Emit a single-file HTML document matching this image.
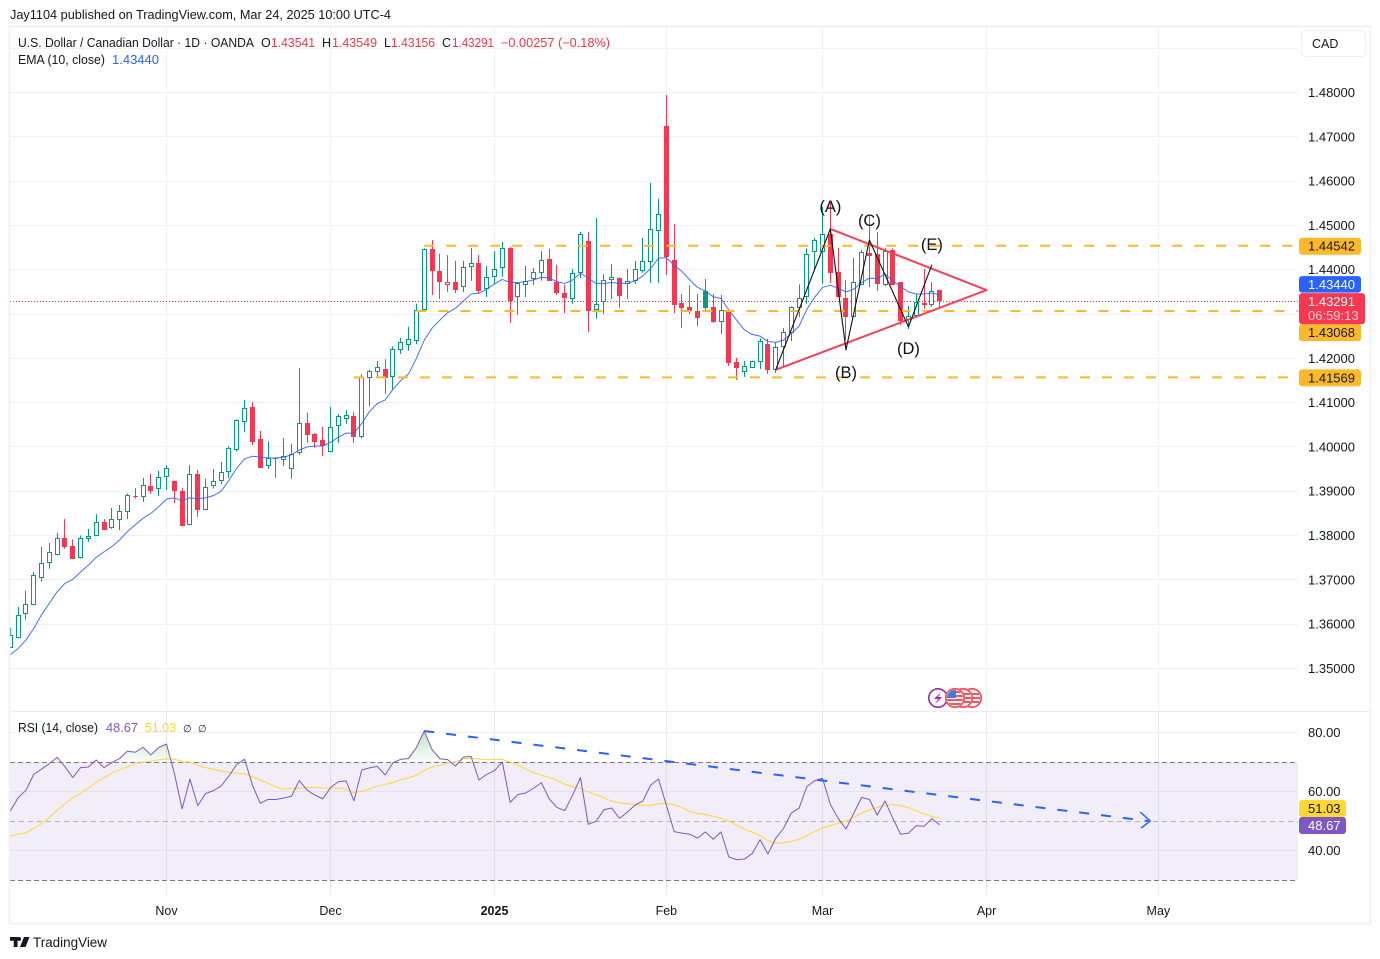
<!DOCTYPE html>
<html lang="en">
<head>
<meta charset="utf-8">
<title>USD/CAD chart</title>
<style>
html,body{margin:0;padding:0;background:#fff;width:1380px;height:959px;overflow:hidden}
svg{display:block}
text{font-family:"Liberation Sans",sans-serif}
</style>
</head>
<body>
<svg id="chart" xmlns="http://www.w3.org/2000/svg" width="1380" height="959" viewBox="0 0 1380 959">
  <defs>
    <clipPath id="price-clip"><rect x="10" y="27" width="1288" height="684"/></clipPath>
    <clipPath id="rsi-clip"><rect x="10" y="712" width="1288" height="181"/></clipPath>
    <clipPath id="overbought-clip"><rect id="overbought-clip-rect" x="10" y="712" width="1288" height="50"/></clipPath>
    <clipPath id="flag-clip"><circle cx="955" cy="698" r="8"/></clipPath>
    <linearGradient id="overbought-gradient" gradientUnits="userSpaceOnUse" x1="0" y1="732" x2="0" y2="762">
      <stop offset="0" stop-color="#4caf50" stop-opacity="0.35"/>
      <stop offset="1" stop-color="#4caf50" stop-opacity="0.02"/>
    </linearGradient>
  </defs>

  <rect x="0" y="0" width="1380" height="959" fill="#ffffff"/>
  <text x="10" y="19" font-size="12.5" fill="#131722" textLength="381" lengthAdjust="spacingAndGlyphs">Jay1104 published on TradingView.com, Mar 24, 2025 10:00 UTC-4</text>

  <g id="grid-layer"></g>
  <rect id="rsi-band" x="10" width="1288" fill="#7e57c2" fill-opacity="0.1"/>
  <g id="rsi-guides"></g>

  <g id="price-pane" clip-path="url(#price-clip)"></g>
  <g id="rsi-pane" clip-path="url(#rsi-clip)"></g>

  <rect x="9.5" y="26.5" width="1361" height="897" fill="none" stroke="#eff0f3" stroke-width="1.6"/>
  <line x1="10" y1="711.5" x2="1370" y2="711.5" stroke="#e9ebf0" stroke-width="1"/>

  <g id="axis-layer"></g>

  <g>
    <circle cx="938" cy="698" r="9.2" fill="#fff" stroke="#9c27b0" stroke-width="1.6"/>
    <polygon points="941,692 934,699 938,699 935,704 942,697 938,697" fill="#9c27b0"/>
    <circle cx="972" cy="698" r="9.2" fill="#fff" stroke="#f7525f" stroke-width="1.8"/>
    <path d="M966 694h13M965 698h15M966 702h13" stroke="#f7525f" stroke-width="2" fill="none"/>
    <circle cx="963" cy="698" r="9.2" fill="#fff" stroke="#f7525f" stroke-width="1.8"/>
    <path d="M957 694h13M956 698h15M957 702h13" stroke="#f7525f" stroke-width="2" fill="none"/>
    <circle cx="955" cy="698" r="9.2" fill="#fff" stroke="#f7525f" stroke-width="1.8"/>
    <g clip-path="url(#flag-clip)">
      <rect x="947" y="690" width="16" height="16" fill="#fff"/>
      <path d="M947 692h16M947 696h16M947 700h16M947 704h16" stroke="#f7525f" stroke-width="2" fill="none"/>
      <rect x="947" y="690" width="9" height="8" fill="#3d7bea"/>
    </g>
  </g>

  <g>
    <text x="18" y="47" font-size="12.5" fill="#131722" textLength="236" lengthAdjust="spacingAndGlyphs">U.S. Dollar / Canadian Dollar · 1D · OANDA</text>
    <text x="261" y="47" font-size="12.5" fill="#131722">O</text>
    <text x="271" y="47" font-size="12.5" fill="#f23645" textLength="44" lengthAdjust="spacingAndGlyphs">1.43541</text>
    <text x="322" y="47" font-size="12.5" fill="#131722">H</text>
    <text x="332" y="47" font-size="12.5" fill="#f23645" textLength="45" lengthAdjust="spacingAndGlyphs">1.43549</text>
    <text x="384" y="47" font-size="12.5" fill="#131722">L</text>
    <text x="391" y="47" font-size="12.5" fill="#f23645" textLength="44" lengthAdjust="spacingAndGlyphs">1.43156</text>
    <text x="442" y="47" font-size="12.5" fill="#131722">C</text>
    <text x="452" y="47" font-size="12.5" fill="#f23645" textLength="42" lengthAdjust="spacingAndGlyphs">1.43291</text>
    <text x="501" y="47" font-size="12.5" fill="#f23645" textLength="109" lengthAdjust="spacingAndGlyphs">−0.00257 (−0.18%)</text>
    <text x="18" y="64" font-size="12.5" fill="#131722" textLength="87" lengthAdjust="spacingAndGlyphs">EMA (10, close)</text>
    <text x="112" y="64" font-size="12.5" fill="#2962ff" textLength="47" lengthAdjust="spacingAndGlyphs">1.43440</text>
    <text x="18" y="732" font-size="12.5" fill="#131722" textLength="80" lengthAdjust="spacingAndGlyphs">RSI (14, close)</text>
    <text x="106" y="732" font-size="12.5" fill="#7e57c2" textLength="32" lengthAdjust="spacingAndGlyphs">48.67</text>
    <text x="145" y="732" font-size="12.5" fill="#fdd835" textLength="31" lengthAdjust="spacingAndGlyphs">51.03</text>
    <text x="183" y="732" font-size="10" fill="#131722">∅</text>
    <text x="198" y="732" font-size="10" fill="#131722">∅</text>
  </g>

  <g>
    <path d="M10 937h7.5v10h-3.8v-6.2H10zM19 937a2 2 0 1 1 0 4 2 2 0 0 1 0-4zM24 937h5.5l-4 10h-5.5z" fill="#131722"/>
    <text x="33" y="947" font-size="13.5" fill="#131722" textLength="74" lengthAdjust="spacingAndGlyphs">TradingView</text>
  </g>
</svg>

<script>
// ---------- Price data ----------
const opens = [
1.3547,1.3568,1.3622,1.3643,1.3703,1.3739,1.3755,1.3794,1.3776,1.3750,
1.3791,1.3800,1.3830,1.3818,1.3834,1.3852,1.3889,1.3888,1.3912,1.3904,
1.3933,1.3924,1.3900,1.3823,1.3939,1.3857,1.3911,1.3924,1.3943,1.3994,
1.4056,1.4090,1.4018,1.3956,1.3976,1.3970,1.3949,1.3986,1.4054,1.4029,
1.4016,1.3989,1.4048,1.4064,1.4070,1.4023,1.4155,1.4168,1.4175,1.4157,
1.4218,1.4229,1.4238,1.4308,1.4447,1.4397,1.4365,1.4372,1.4360,1.4405,
1.4415,1.4357,1.4384,1.4403,1.4448,1.4339,1.4365,1.4380,1.4393,1.4424,
1.4372,1.4347,1.4333,1.4392,1.4465,1.4308,1.4326,1.4376,1.4381,1.4367,
1.4374,1.4396,1.4417,1.4487,1.4724,1.4422,1.4325,1.4316,1.4307,1.4352,
1.4316,1.4282,1.4305,1.4192,1.4169,1.4179,1.4192,1.4232,1.4174,1.4225,
1.4256,1.4313,1.4338,1.4439,1.4441,1.4481,1.4395,1.4336,1.4293,1.4366,
1.4438,1.4435,1.4366,1.4445,1.4372,1.4286,1.4296,1.4324,1.4320,1.43541];
const highs = [
1.3592,1.3639,1.3675,1.3718,1.3774,1.3783,1.3806,1.3837,1.3791,1.3800,
1.3815,1.3848,1.3837,1.3862,1.3869,1.3895,1.3907,1.3930,1.3939,1.3946,
1.3959,1.3924,1.3907,1.3959,1.3948,1.3928,1.3950,1.3966,1.4001,1.4062,
1.4106,1.4101,1.4036,1.4013,1.3976,1.4020,1.4007,1.4178,1.4077,1.4031,
1.4045,1.4090,1.4074,1.4083,1.4079,1.4164,1.4174,1.4194,1.4198,1.4227,
1.4246,1.4271,1.4323,1.4448,1.4467,1.4436,1.4433,1.4420,1.4420,1.4449,
1.4433,1.4408,1.4442,1.4463,1.4451,1.4369,1.4408,1.4404,1.4442,1.4447,
1.4411,1.4366,1.4402,1.4485,1.4485,1.4517,1.4390,1.4413,1.4383,1.4402,
1.4420,1.4472,1.4596,1.4560,1.4794,1.4503,1.4345,1.4365,1.4345,1.4379,
1.4345,1.4343,1.4305,1.4201,1.4194,1.4195,1.4245,1.4244,1.4236,1.4268,
1.4317,1.4367,1.4448,1.4472,1.4542,1.4553,1.4449,1.4377,1.4426,1.4445,
1.4521,1.4485,1.4449,1.4448,1.4372,1.4318,1.4345,1.4402,1.4372,1.43549];
const lows = [
1.3547,1.3568,1.3610,1.3642,1.3696,1.3725,1.3755,1.3770,1.3748,1.3748,
1.3786,1.3800,1.3812,1.3815,1.3812,1.3837,1.3883,1.3876,1.3894,1.3889,
1.3903,1.3873,1.3822,1.3823,1.3842,1.3857,1.3906,1.3916,1.3930,1.3989,
1.4034,1.4004,1.3952,1.3950,1.3930,1.3957,1.3928,1.3982,1.4009,1.3998,
1.3979,1.3989,1.4009,1.4052,1.4009,1.4019,1.4092,1.4155,1.4119,1.4130,
1.4210,1.4217,1.4232,1.4305,1.4343,1.4334,1.4350,1.4347,1.4350,1.4375,
1.4345,1.4338,1.4368,1.4384,1.4280,1.4298,1.4338,1.4366,1.4375,1.4375,
1.4343,1.4302,1.4323,1.4381,1.4259,1.4289,1.4300,1.4334,1.4314,1.4334,
1.4368,1.4393,1.4370,1.4370,1.4388,1.4302,1.4268,1.4300,1.4273,1.4305,
1.4280,1.4255,1.4183,1.4151,1.4158,1.4179,1.4176,1.4165,1.4167,1.4182,
1.4239,1.4293,1.4323,1.4399,1.4368,1.4370,1.4338,1.4241,1.4293,1.4366,
1.4361,1.4352,1.4363,1.4366,1.4275,1.4266,1.4293,1.4311,1.4316,1.43156];
const closes = [
1.3575,1.3620,1.3645,1.3710,1.3739,1.3762,1.3794,1.3773,1.3748,1.3794,
1.3798,1.3830,1.3812,1.3837,1.3855,1.3891,1.3887,1.3913,1.3900,1.3933,
1.3952,1.3901,1.3822,1.3938,1.3858,1.3909,1.3922,1.3943,1.3997,1.4060,
1.4087,1.4011,1.3952,1.3974,1.3973,1.3979,1.3983,1.4053,1.4027,1.4011,
1.4002,1.4044,1.4069,1.4071,1.4022,1.4157,1.4171,1.4180,1.4156,1.4220,
1.4236,1.4243,1.4308,1.4446,1.4397,1.4373,1.4372,1.4354,1.4405,1.4414,
1.4352,1.4383,1.4401,1.4448,1.4329,1.4369,1.4374,1.4394,1.4421,1.4375,
1.4347,1.4336,1.4392,1.4480,1.4307,1.4322,1.4376,1.4383,1.4341,1.4374,
1.4401,1.4419,1.4493,1.4525,1.4429,1.4320,1.4314,1.4307,1.4291,1.4314,
1.4282,1.4308,1.4189,1.4178,1.4182,1.4195,1.4238,1.4174,1.4225,1.4259,
1.4315,1.4335,1.4435,1.4466,1.4481,1.4393,1.4338,1.4293,1.4372,1.4440,
1.4431,1.4368,1.4442,1.4366,1.4284,1.4296,1.4326,1.4321,1.4353,1.43291];
const emaValues = [
1.3531,1.3545,1.3564,1.3590,1.3621,1.3647,1.3673,1.3692,1.3701,1.3718,
1.3733,1.3751,1.3763,1.3775,1.3790,1.3809,1.3824,1.3839,1.3850,1.3865,
1.3882,1.3885,1.3878,1.3885,1.3883,1.3885,1.3890,1.3900,1.3925,1.3952,
1.3973,1.3979,1.3977,1.3975,1.3975,1.3977,1.3982,1.3993,1.4000,1.4002,
1.4002,1.4010,1.4022,1.4031,1.4031,1.4053,1.4080,1.4098,1.4106,1.4130,
1.4150,1.4165,1.4200,1.4241,1.4268,1.4286,1.4303,1.4313,1.4329,1.4345,
1.4347,1.4356,1.4368,1.4378,1.4371,1.4371,1.4373,1.4377,1.4383,1.4381,
1.4373,1.4369,1.4377,1.4392,1.4381,1.4369,1.4369,1.4371,1.4369,1.4369,
1.4375,1.4386,1.4403,1.4426,1.4427,1.4410,1.4396,1.4377,1.4360,1.4352,
1.4339,1.4335,1.4309,1.4286,1.4264,1.4254,1.4250,1.4238,1.4236,1.4241,
1.4256,1.4273,1.4311,1.4338,1.4360,1.4365,1.4358,1.4350,1.4356,1.4371,
1.4381,1.4380,1.4390,1.4375,1.4362,1.4350,1.4345,1.4345,1.4347,1.43440];

// ---------- RSI data ----------
const rsiValues = [
53.4,57.9,60.4,65.8,67.6,69.4,71.6,68.4,64.7,68.1,
68.3,70.7,68.1,69.8,71.2,73.7,73.3,75.0,72.4,74.9,
76.1,66.2,54.1,64.2,55.2,59.3,60.3,61.9,65.3,69.2,
70.9,62.2,56.0,57.3,57.3,57.8,58.4,63.7,60.5,58.8,
57.5,61.3,63.3,63.6,56.8,67.3,68.0,68.5,65.6,69.8,
70.9,71.2,74.9,80.5,74.2,71.1,70.8,68.6,71.6,71.9,
63.9,65.8,67.1,70.0,56.3,59.0,59.5,61.1,63.0,57.5,
54.6,53.5,58.8,64.7,48.9,49.9,53.8,54.4,50.9,53.0,
55.4,56.8,62.2,64.2,55.4,46.4,45.9,45.5,44.2,46.3,
43.8,46.3,37.8,36.9,37.1,39.0,43.7,38.8,44.1,47.5,
52.7,54.4,61.7,63.7,64.5,55.6,50.9,47.3,52.6,58.0,
57.3,52.0,56.8,50.9,45.5,45.9,48.4,48.2,50.8,48.67];
const rsiMaValues = [
44.9,45.5,46.0,47.5,49.1,51.1,53.7,55.8,57.9,59.4,
61.1,63.0,64.7,66.2,67.3,68.4,69.3,70.0,70.3,70.7,
71.0,70.9,70.3,69.9,68.9,68.1,67.5,67.0,66.5,66.2,
66.0,65.0,63.9,62.8,61.6,60.7,61.1,61.1,61.4,61.4,
61.2,61.2,61.1,60.7,59.6,60.1,60.8,61.8,62.4,63.1,
64.0,64.6,65.6,67.2,68.3,69.0,69.5,70.1,71.0,71.3,
71.0,70.8,70.8,70.9,70.0,69.0,67.6,66.4,65.6,64.8,
63.7,62.5,61.6,61.0,59.9,58.9,57.9,56.7,56.2,55.9,
55.5,55.3,55.3,55.9,56.0,55.4,54.6,53.2,52.6,52.2,
51.6,50.9,50.0,48.6,47.3,46.2,45.0,43.4,42.5,42.6,
43.1,43.8,45.0,46.4,47.7,48.4,49.2,50.0,51.2,52.7,
53.7,54.6,55.4,55.6,55.2,54.5,53.5,52.4,51.5,51.03];

// ---------- Axis data ----------
const priceTicks = [1.49,1.48,1.47,1.46,1.45,1.44,1.43,1.42,1.41,1.40,1.39,1.38,1.37,1.36,1.35];
const rsiTicks = [80,60,40];
const rsiBands = [70,50,30];
const timeLabels = ['Nov','Dec','2025','Feb','Mar','Apr','May'];
const timeBars = [20,41,62,84,104,125,147];

// ---------- Drawings ----------
const levelPrices = [1.44542,1.43068,1.41569];
const levelStartBars = [53,52,44];
const waveBars = [98,105,107,110,115,118];
const wavePrices = [1.4174,1.4492,1.4219,1.4467,1.4271,1.4411];
const triangleBars = [105,125,98];
const trianglePrices = [1.4492,1.4354,1.4174];
const waveLabels = ['(A)','(B)','(C)','(D)','(E)'];
const waveLabelBars = [105,107,110,115,118];
const waveLabelPrices = [1.4544,1.4169,1.4512,1.4223,1.4458];
const trendBars = [53,145.7];
const trendValues = [80.5,50];
const lastPrice = 1.43291;
const lastEma = 1.43440;
const lastRsi = 48.67;
const lastRsiMa = 51.03;
const countdown = '06:59:13';

// ---------- Axis functions ----------
const NS = 'http://www.w3.org/2000/svg';
const xOf = i => 10.3 + i * 7.81;
const yOf = p => 92.5 + (1.48 - p) * 4430;
const rsiY = v => 732.5 + (80 - v) * 2.95;
const crisp = v => Math.floor(v) + 0.5;

const RED = '#f7374f', GREEN = '#089981', BLUE = '#2962ff', ORANGE = '#fdb92b', PURPLE = '#7e57c2', YELLOW = '#fdd835', LINE = '#f0f1f4', INK = '#131722';

function add(parent, tag, attrs) {
  const el = document.createElementNS(NS, tag);
  for (const k in attrs) el.setAttribute(k, attrs[k]);
  parent.appendChild(el);
  return el;
}
function pathOf(xs, ys) {
  return xs.map((x, i) => (i ? 'L' : 'M') + x.toFixed(2) + ' ' + ys[i].toFixed(2)).join('');
}

const grid = document.getElementById('grid-layer');
const guides = document.getElementById('rsi-guides');
const pricePane = document.getElementById('price-pane');
const rsiPane = document.getElementById('rsi-pane');
const axes = document.getElementById('axis-layer');

// Grid and tick labels
priceTicks.forEach(p => {
  const y = crisp(yOf(p));
  const g = add(grid, 'line', {x1: 10, x2: 1298, y1: y, y2: y, stroke: LINE, 'stroke-width': 1});
  
  
  const t = add(axes, 'text', {x: 1308, y: yOf(p) + 4.5, 'font-size': 13, fill: INK});
  
  
  t.textContent = p.toFixed(5);
});
rsiTicks.forEach(v => {
  const y = crisp(rsiY(v));
  const g = add(grid, 'line', {x1: 10, x2: 1298, y1: y, y2: y, stroke: LINE, 'stroke-width': 1});
  
  
  const t = add(axes, 'text', {x: 1308, y: rsiY(v) + 4.5, 'font-size': 13, fill: INK});
  
  
  t.textContent = v.toFixed(2);
});
timeBars.forEach((b, i) => {
  const x = crisp(xOf(b));
  const g = add(grid, 'line', {x1: x, x2: x, y1: 27, y2: 711, stroke: LINE, 'stroke-width': 1});
  
  
  const g2 = add(grid, 'line', {x1: x, x2: x, y1: 712, y2: 895, stroke: '#e9e9ee', 'stroke-width': 1});
  
  
  const t = add(axes, 'text', {x: xOf(b), y: 915, 'font-size': 12.5, fill: INK, 'text-anchor': 'middle', 'font-weight': timeLabels[i] === '2025' ? 'bold' : 'normal'});
  
  
  t.textContent = timeLabels[i];
});

// RSI band and guide lines
const band = document.getElementById('rsi-band');
band.setAttribute('y', rsiY(rsiBands[0]));
band.setAttribute('height', rsiY(rsiBands[2]) - rsiY(rsiBands[0]));
rsiBands.forEach(v => {
  const y = crisp(rsiY(v));
  const l = add(guides, 'line', {x1: 10, x2: 1298, y1: y, y2: y, stroke: v === 50 ? '#b2b5be' : '#787b86', 'stroke-width': 1, 'stroke-dasharray': v === 50 ? '5 4' : '5 3'});
  
  
});

// Last price dotted line
const priceLine = add(pricePane, 'line', {x1: 10, x2: 1298, y1: crisp(yOf(lastPrice)), y2: crisp(yOf(lastPrice)), stroke: RED, 'stroke-width': 1, 'stroke-dasharray': '1 2'});



// Candles: hollow when close > open, colour by close vs previous close
closes.forEach((c, i) => {
  const o = opens[i];
  const prev = i ? closes[i - 1] : o;
  const col = c >= prev ? GREEN : RED;
  const xc = crisp(xOf(i));
  const top = Math.round(yOf(Math.max(o, c)));
  const bottom = Math.round(yOf(Math.min(o, c)));
  const wick = add(pricePane, 'line', {x1: xc, x2: xc, y1: yOf(highs[i]), y2: yOf(lows[i]), stroke: col, 'stroke-width': 1});
  
  
  const hollow = c > o;
  const body = add(pricePane, 'rect', hollow
    ? {x: xc - 2, y: top + 0.5, width: 4, height: Math.max(1, bottom - top - 1), fill: '#ffffff', stroke: col, 'stroke-width': 1}
    : {x: xc - 2.5, y: top, width: 5, height: Math.max(1, bottom - top), fill: col});
  
  
});

// EMA line
const barXs = closes.map((_, i) => xOf(i));
const emaLine = add(pricePane, 'path', {d: pathOf(barXs, emaValues.map(yOf)), fill: 'none', stroke: BLUE, 'stroke-width': 1, 'stroke-opacity': 0.9, 'stroke-linejoin': 'round'});



// Horizontal levels
levelPrices.forEach((p, i) => {
  const y = yOf(p);
  const l = add(pricePane, 'line', {x1: xOf(levelStartBars[i]), x2: 1298, y1: y, y2: y, stroke: ORANGE, 'stroke-width': 2, 'stroke-dasharray': '10 12'});
  
  
});

// Triangle
const triangle = add(pricePane, 'path', {d: pathOf(triangleBars.map(xOf), trianglePrices.map(yOf)), fill: 'none', stroke: '#f4405c', 'stroke-width': 2, 'stroke-linejoin': 'round'});



// Wave zigzag
const zigzag = add(pricePane, 'path', {d: pathOf(waveBars.map(xOf), wavePrices.map(yOf)), fill: 'none', stroke: '#111111', 'stroke-width': 1.1, 'stroke-linejoin': 'round'});



waveLabels.forEach((s, i) => {
  const t = add(pricePane, 'text', {x: xOf(waveLabelBars[i]), y: yOf(waveLabelPrices[i]) + 6, 'font-size': 16.5, fill: '#111111', 'text-anchor': 'middle'});
  
  
  t.textContent = s;
});

// RSI overbought fill
const ob = document.getElementById('overbought-clip-rect');
ob.setAttribute('height', rsiY(70) - 712);
const rsiYs = rsiValues.map(rsiY);
const fillD = pathOf(barXs, rsiYs) + 'L' + barXs[barXs.length - 1] + ' ' + rsiY(70) + 'L' + barXs[0] + ' ' + rsiY(70) + 'Z';
const obFill = add(rsiPane, 'path', {d: fillD, fill: 'url(#overbought-gradient)', 'clip-path': 'url(#overbought-clip)'});



const rsiMaLine = add(rsiPane, 'path', {d: pathOf(barXs, rsiMaValues.map(rsiY)), fill: 'none', stroke: YELLOW, 'stroke-width': 1, 'stroke-linejoin': 'round'});



const rsiLine = add(rsiPane, 'path', {d: pathOf(barXs, rsiYs), fill: 'none', stroke: PURPLE, 'stroke-width': 1, 'stroke-linejoin': 'round'});



// RSI trend arrow
const tx = trendBars.map(xOf), ty = trendValues.map(rsiY);
const trend = add(rsiPane, 'line', {x1: tx[0], y1: ty[0], x2: tx[1], y2: ty[1], stroke: BLUE, 'stroke-width': 2, 'stroke-dasharray': '10 12'});


const head = add(rsiPane, 'polyline', {points: (tx[1] - 8) + ',' + (ty[1] - 9) + ' ' + (tx[1] + 2) + ',' + ty[1] + ' ' + (tx[1] - 7) + ',' + (ty[1] + 7), fill: 'none', stroke: BLUE, 'stroke-width': 1.5});



// Axis badges: labels that collide with the last-price box get pushed clear of it
const lastBoxTop = yOf(lastPrice) - 8;
const lastBoxHeight = 31;
function clearOfLast(cy, h) {
  const bottomEdge = lastBoxTop + lastBoxHeight;
  if (cy + h / 2 > lastBoxTop && cy - h / 2 < bottomEdge) {
    return cy < lastBoxTop + lastBoxHeight / 2 ? lastBoxTop - h / 2 - 0.5 : bottomEdge + h / 2;
  }
  return cy;
}
function badge(name, cy, h, w, fill, text, color) {
  const r = add(axes, 'rect', {x: 1299, y: cy - h / 2, width: w, height: h, rx: 3, fill: fill});
  
  
  const t = add(axes, 'text', {x: 1308, y: cy + 4.5, 'font-size': 13, fill: color});
  
  
  t.textContent = text;
}
levelPrices.forEach(p => {
  badge('level', clearOfLast(yOf(p) + 0.5, 17), 17, 62, ORANGE, p.toFixed(5), INK);
});
badge('ema', clearOfLast(yOf(lastEma) + 0.5, 16.5), 16.5, 62, BLUE, lastEma.toFixed(5), '#ffffff');

const lastBox = add(axes, 'rect', {x: 1299, y: lastBoxTop, width: 66, height: lastBoxHeight, rx: 3, fill: RED});


const lastText = add(axes, 'text', {x: 1308, y: yOf(lastPrice) + 5, 'font-size': 13, fill: '#ffffff'});


lastText.textContent = lastPrice.toFixed(5);
const cd = add(axes, 'text', {x: 1308, y: yOf(lastPrice) + 19, 'font-size': 13, fill: '#ffffff', 'fill-opacity': 0.75});


cd.textContent = countdown;

badge('rsi-ma', 808.5, 17, 47, YELLOW, lastRsiMa.toFixed(2), INK);
badge('rsi', 825.5, 17, 47, PURPLE, lastRsi.toFixed(2), '#ffffff');

// Currency button sits on top of the axis
const cadBox = add(axes, 'rect', {x: 1301.5, y: 30.5, width: 64, height: 26, rx: 4, fill: '#ffffff', stroke: '#eceef2'});


const cadText = add(axes, 'text', {x: 1312, y: 48, 'font-size': 12.5, fill: INK});


cadText.textContent = 'CAD';
</script>
</body>
</html>
